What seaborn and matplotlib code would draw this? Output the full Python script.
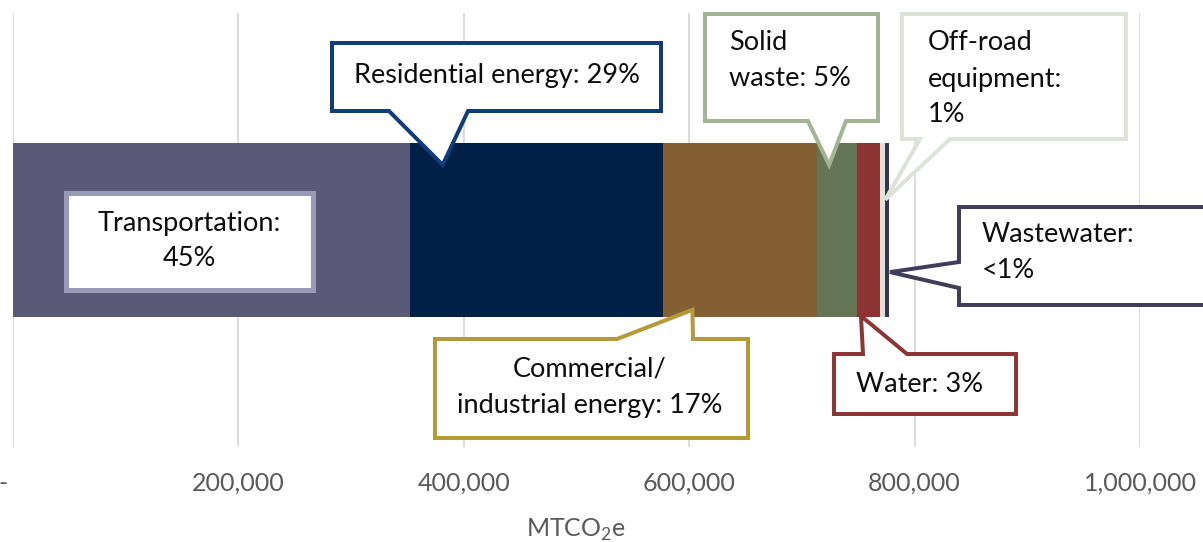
import matplotlib
matplotlib.use("Agg")
import matplotlib.pyplot as plt
import pandas as pd
import seaborn as sns
from matplotlib.patches import Polygon
from matplotlib.transforms import Affine2D

# Emissions by sector (MTCO2e), in stacking order
sectors = ["Transportation", "Residential energy", "Commercial/industrial energy",
           "Solid waste", "Water", "Off-road equipment", "Wastewater"]
emissions = [352000, 225000, 136000, 36000, 20000, 5000, 3500]
colors = ["#5A5978", "#002147", "#845F33", "#637554", "#8C3333", "#DEE3DA", "#37344F"]
xticks = [0, 200000, 400000, 600000, 800000, 1000000]
xticklabels = ["-   ", "200,000", "400,000", "600,000", "800,000", "1,000,000"]

W, H = 1203, 542
sns.set_theme(style="white")
plt.rcParams["font.family"] = ["Lato", "DejaVu Sans"]
plt.rcParams["mathtext.fontset"] = "custom"
plt.rcParams["mathtext.rm"] = "Lato"

fig = plt.figure(figsize=(W / 100, H / 100), dpi=100)
ax = fig.add_axes([13 / W, 1 - 447 / H, (1140 - 13) / W, (447 - 13) / H])

df = pd.DataFrame({"sector": sectors, "value": emissions, "color": colors})
df["end"] = df["value"].cumsum()
df["start"] = df["end"] - df["value"]
total = df["value"].sum()
df["pct"] = df["value"] / total * 100
df["pct_label"] = ["<1%" if p < 0.5 else f"{p:.0f}%" for p in df["pct"]]

# stacked bar: draw cumulative totals from the longest down
for _, r in df[::-1].iterrows():
    sns.barplot(x=[r["end"]], y=["Total"], color=r["color"], width=0.4,
                orient="h", saturation=1, errorbar=None, linewidth=0, ax=ax)

ax.set_xlim(0, 1_000_000)
ax.set_ylim(0.5, -0.5)
ax.set_xticks(xticks)
ax.set_xticklabels(xticklabels)
ax.set_yticks([])
ax.set_xlabel("")
ax.set_ylabel("")
ax.grid(axis="x", color="#D9D9D9", linewidth=1.3)
ax.grid(axis="y", visible=False)
ax.set_axisbelow(True)
for s in ax.spines.values():
    s.set_visible(False)
ax.tick_params(axis="x", length=0, pad=18, labelsize=18, labelcolor="#595959")

fig.text(576 / W, 1 - 530 / H, "MTCO$_2$e", ha="center", va="center",
         fontsize=18, color="#595959")

# pixel coordinates measured from the top-left corner of the figure
pix = Affine2D().scale(1, -1).translate(0, H)


def tip_px(sector, frac, y):
    r = df[df["sector"] == sector].iloc[0]
    x = r["start"] + frac * r["value"]
    dx, dy = ax.transData.transform((x, y))
    return (dx, H - dy)


def callout(box, color, lw, wedge=None, tip=None):
    x0, y0, x1, y1 = box
    if wedge is None:
        pts = [(x0, y0), (x1, y0), (x1, y1), (x0, y1)]
    else:
        side, a, b = wedge
        if side == "bottom":
            pts = [(x0, y0), (x1, y0), (x1, y1), (b, y1), tip, (a, y1), (x0, y1)]
        elif side == "top":
            pts = [(x0, y0), (a, y0), tip, (b, y0), (x1, y0), (x1, y1), (x0, y1)]
        else:
            pts = [(x0, y0), (x1, y0), (x1, y1), (x0, y1), (x0, b), tip, (x0, a)]
    fig.add_artist(Polygon(pts, closed=True, transform=pix, facecolor="white",
                           edgecolor=color, linewidth=lw * 0.72, joinstyle="miter"))


def label(x, y, s, ha="center"):
    fig.text(x, y, s, transform=pix, ha=ha, va="center", fontsize=19.5,
             color="#0D0D0D", linespacing=1.55)


pl = dict(zip(df["sector"], df["pct_label"]))

# Transportation
callout((65.5, 192.5, 312.5, 289.5), "#9B99B8", 5)
label(189, 241, f"Transportation:\n{pl['Transportation']}")

# Residential energy
callout((332, 43, 661, 111), "#103D7A", 4, ("bottom", 389, 468),
        tip_px("Residential energy", 0.13, -0.15))
label(497, 76, f"Residential energy: {pl['Residential energy']}")

# Commercial/industrial energy
callout((435, 339, 748, 438), "#B59A3A", 4, ("top", 617, 693),
        tip_px("Commercial/industrial energy", 0.19, 0.184))
label(590, 387, f"Commercial/\nindustrial energy: {pl['Commercial/industrial energy']}")

# Solid waste
callout((705, 14, 878, 121), "#A3B494", 4, ("bottom", 808, 846),
        tip_px("Solid waste", 0.31, -0.15))
label(729, 60, f"Solid\nwaste: {pl['Solid waste']}", ha="left")

# Off-road equipment
callout((902, 14, 1126, 139), "#DEE3DA", 4, ("bottom", 920, 950),
        tip_px("Off-road equipment", 1.0, -0.07))
label(928, 79, f"Off-road\nequipment:\n{pl['Off-road equipment']}", ha="left")

# Wastewater
callout((959, 207, 1215, 305), "#403D5C", 4, ("left", 262, 288),
        tip_px("Wastewater", 1.2, 0.097))
label(982, 253, f"Wastewater:\n{pl['Wastewater']}", ha="left")

# Water
callout((834, 354, 1016, 414), "#8E3536", 4, ("top", 863, 907),
        tip_px("Water", 0.17, 0.198))
label(920, 385, f"Water: {pl['Water']}")

fig.savefig("out.png", dpi=100)
